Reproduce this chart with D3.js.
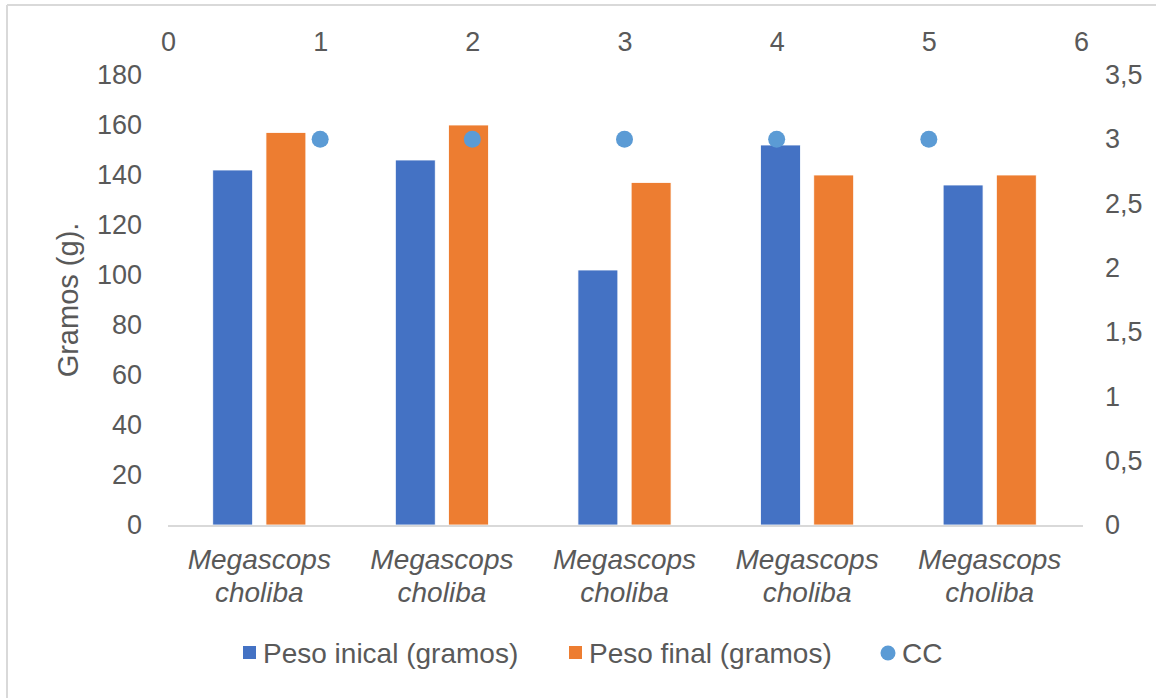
<!DOCTYPE html>
<html>
<head>
<meta charset="utf-8">
<script src="https://cdn.jsdelivr.net/npm/d3@7"></script>
<style>
  html, body { margin: 0; padding: 0; background: #fff; }
  svg { display: block; }
  text { font-family: "Liberation Sans", Arial, sans-serif; fill: #595959; }
</style>
</head>
<body>
<svg id="chart" width="1156" height="698"></svg>
<script>
// ---- data ----
const categories = ["Megascops choliba 1", "Megascops choliba 2", "Megascops choliba 3", "Megascops choliba 4", "Megascops choliba 5"];
const categoryLabel = ["Megascops", "choliba"];
const pesoInicial = [142, 146, 102, 152, 136];
const pesoFinal = [157, 160, 137, 140, 140];
const ccX = [1, 2, 3, 4, 5];
const ccY = [3, 3, 3, 3, 3];
const leftTicks = [0, 20, 40, 60, 80, 100, 120, 140, 160, 180];
const rightTicks = [0, 0.5, 1, 1.5, 2, 2.5, 3, 3.5];
const topTicks = [0, 1, 2, 3, 4, 5, 6];
const seriesNames = ["Peso inical (gramos)", "Peso final (gramos)", "CC"];
const yTitle = "Gramos (g).";

// ---- layout ----
const svg = d3.select("#chart");
const L = 168, R = 1081, T = 75, B = 525;
const colors = { ini: "#4472C4", fin: "#ED7D31", cc: "#5B9BD5" };

// frame (top and left edges visible)
svg.append("line").attr("x1", 7).attr("x2", 1156).attr("y1", 5).attr("y2", 5)
  .attr("stroke", "#D9D9D9").attr("stroke-width", 2);
svg.append("line").attr("x1", 7).attr("x2", 7).attr("y1", 5).attr("y2", 698)
  .attr("stroke", "#D9D9D9").attr("stroke-width", 2);

const x0 = d3.scaleBand().domain(categories).range([L, R]).paddingInner(0.49).paddingOuter(0.245);
const x1 = d3.scaleBand().domain([0, 1]).range([0, x0.bandwidth()]).paddingInner(0.25);
const yL = d3.scaleLinear().domain([0, 180]).range([B, T]);
const yR = d3.scaleLinear().domain([0, 3.5]).range([B, T]);
const xTop = d3.scaleLinear().domain([0, 6]).range([L, R]);

const comma = v => String(v).replace(".", ",");

// left axis
const gL = svg.append("g").attr("transform", `translate(${L},0)`)
  .call(d3.axisLeft(yL).tickValues(leftTicks).tickSize(0).tickPadding(26));
gL.select(".domain").remove();
gL.selectAll("text").style("font-size", "27px").attr("fill", "#595959")
  .style("font-family", "'Liberation Sans', Arial, sans-serif");

// right axis
const gR = svg.append("g").attr("transform", `translate(${R},0)`)
  .call(d3.axisRight(yR).tickValues(rightTicks).tickSize(0).tickPadding(24).tickFormat(comma));
gR.select(".domain").remove();
gR.selectAll("text").style("font-size", "27px").attr("fill", "#595959")
  .style("font-family", "'Liberation Sans', Arial, sans-serif");

// top axis
const gT = svg.append("g").attr("transform", `translate(0,${T})`)
  .call(d3.axisTop(xTop).tickValues(topTicks).tickSize(0).tickPadding(24).tickFormat(d3.format("d")));
gT.select(".domain").remove();
gT.selectAll("text").style("font-size", "27px").attr("fill", "#595959")
  .style("font-family", "'Liberation Sans', Arial, sans-serif");

// bars
const groups = svg.append("g").selectAll("g").data(categories).join("g")
  .attr("transform", d => `translate(${x0(d)},0)`);
groups.append("rect")
  .attr("x", x1(0)).attr("width", x1.bandwidth())
  .attr("y", (d, i) => yL(pesoInicial[i]))
  .attr("height", (d, i) => yL(0) - yL(pesoInicial[i]))
  .attr("fill", colors.ini).attr("stroke", "#fff").attr("stroke-width", 0.8);
groups.append("rect")
  .attr("x", x1(1)).attr("width", x1.bandwidth())
  .attr("y", (d, i) => yL(pesoFinal[i]))
  .attr("height", (d, i) => yL(0) - yL(pesoFinal[i]))
  .attr("fill", colors.fin).attr("stroke", "#fff").attr("stroke-width", 0.8);

// baseline
svg.append("line").attr("x1", L).attr("x2", R + 2).attr("y1", yL(0) + 1).attr("y2", yL(0) + 1)
  .attr("stroke", "#D9D9D9").attr("stroke-width", 2);

// category labels
const gB = svg.append("g").attr("transform", `translate(0,${B})`)
  .call(d3.axisBottom(x0).tickSize(0).tickFormat(() => ""));
gB.select(".domain").remove();
gB.selectAll(".tick").each(function() {
  const t = d3.select(this);
  t.selectAll("text").remove();
  categoryLabel.forEach((s, k) => {
    t.append("text").attr("y", 44 + k * 33).attr("text-anchor", "middle")
      .style("font-size", "28px").style("font-style", "italic").attr("fill", "#595959")
      .text(s);
  });
});

// CC scatter
svg.append("g").selectAll("circle").data(ccX).join("circle")
  .attr("cx", (d) => xTop(d)).attr("cy", (d, i) => yR(ccY[i]))
  .attr("r", 8.5).attr("fill", colors.cc);

// y title
svg.append("text").attr("transform", `translate(78,${(T + B) / 2}) rotate(-90)`)
  .attr("text-anchor", "middle").style("font-size", "29px").text(yTitle);

// legend
const ly = 653;
const leg = svg.append("g");
leg.append("rect").attr("x", 243).attr("y", ly - 7).attr("width", 13).attr("height", 13).attr("fill", colors.ini);
leg.append("text").attr("x", 263).attr("y", ly + 10).style("font-size", "28px").text(seriesNames[0]);
leg.append("rect").attr("x", 569).attr("y", ly - 7).attr("width", 13).attr("height", 13).attr("fill", colors.fin);
leg.append("text").attr("x", 589).attr("y", ly + 10).style("font-size", "28px").text(seriesNames[1]);
leg.append("circle").attr("cx", 888).attr("cy", ly).attr("r", 7.5).attr("fill", colors.cc);
leg.append("text").attr("x", 902).attr("y", ly + 10).style("font-size", "28px").text(seriesNames[2]);
</script>
</body>
</html>
